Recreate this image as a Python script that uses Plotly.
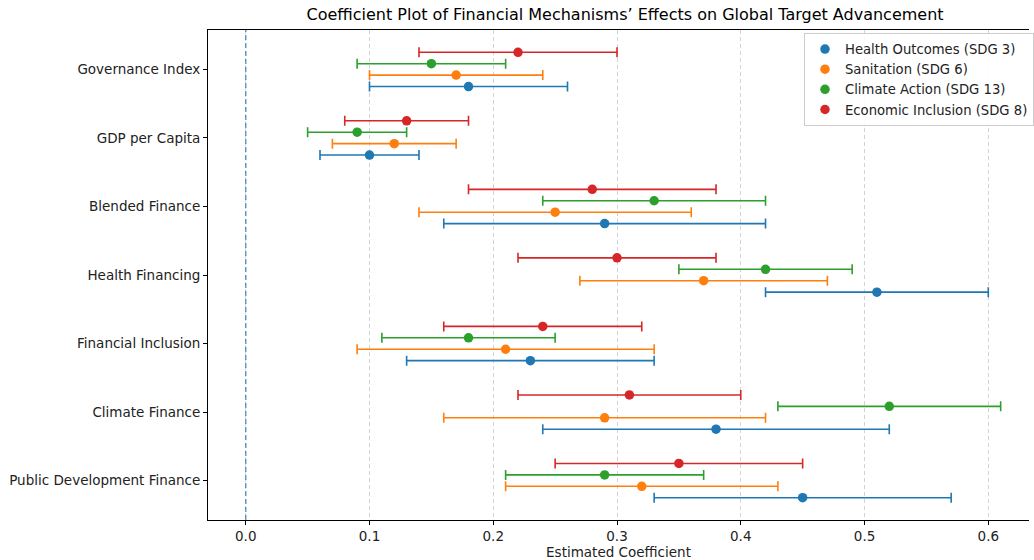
import plotly.graph_objects as go

categories = ["Public Development Finance", "Climate Finance", "Financial Inclusion",
              "Health Financing", "Blended Finance", "GDP per Capita", "Governance Index"]
series_names = ["Health Outcomes (SDG 3)", "Sanitation (SDG 6)",
                "Climate Action (SDG 13)", "Economic Inclusion (SDG 8)"]

health_coef = [0.45, 0.38, 0.23, 0.51, 0.29, 0.10, 0.18]
health_err = [0.12, 0.14, 0.10, 0.09, 0.13, 0.04, 0.08]
sanitation_coef = [0.32, 0.29, 0.21, 0.37, 0.25, 0.12, 0.17]
sanitation_err = [0.11, 0.13, 0.12, 0.10, 0.11, 0.05, 0.07]
climate_coef = [0.29, 0.52, 0.18, 0.42, 0.33, 0.09, 0.15]
climate_err = [0.08, 0.09, 0.07, 0.07, 0.09, 0.04, 0.06]
economic_coef = [0.35, 0.31, 0.24, 0.30, 0.28, 0.13, 0.22]
economic_err = [0.10, 0.09, 0.08, 0.08, 0.10, 0.05, 0.08]

colors = ["#1f77b4", "#ff7f0e", "#2ca02c", "#d62728"]
offsets = [-0.25, -0.25 / 3, 0.25 / 3, 0.25]

coefs = [health_coef, sanitation_coef, climate_coef, economic_coef]
errs = [health_err, sanitation_err, climate_err, economic_err]

fig = go.Figure()
for name, c, e, col, off in zip(series_names, coefs, errs, colors, offsets):
    fig.add_trace(go.Scatter(
        x=c, y=[i + off for i in range(len(categories))],
        mode="markers", name=name,
        marker=dict(color=col, size=9.5),
        error_x=dict(type="data", array=e, visible=True, color=col, thickness=1.6, width=5),
    ))

fig.add_shape(type="line", x0=0, x1=0, y0=0, y1=1, xref="x", yref="paper",
              line=dict(color="rgba(31,119,180,0.7)", width=1.5, dash="5px,3px"))

font = "DejaVu Sans, Arial, sans-serif"
fig.update_layout(
    width=1034, height=560,
    paper_bgcolor="white", plot_bgcolor="white",
    margin=dict(l=208, r=0, t=30, b=40),
    font=dict(family=font, size=13.5, color="#222"),
    title=dict(text="Coefficient Plot of Financial Mechanisms\u2019 Effects on Global Target Advancement",
               x=0.6045, xanchor="center", y=0.985, yanchor="top",
               font=dict(family=font, size=16, color="black")),
    showlegend=True,
    legend=dict(x=0.726, y=0.994, xanchor="left", yanchor="top",
                bgcolor="rgba(255,255,255,0.85)", bordercolor="#cccccc", borderwidth=1,
                tracegroupgap=0,
                font=dict(family=font, size=13.2, color="#222")),
)
fig.update_xaxes(
    range=[-0.0305, 0.6329], tickvals=[0.0, 0.1, 0.2, 0.3, 0.4, 0.5, 0.6],
    ticktext=["0.0", "0.1", "0.2", "0.3", "0.4", "0.5", "0.6"],
    showgrid=True, gridcolor="#d3d3d3", griddash="4px,3px", gridwidth=1,
    showline=True, linecolor="black", linewidth=1, mirror=True,
    ticks="outside", ticklen=4, tickcolor="black", zeroline=False,
    title=dict(text="Estimated Coefficient", standoff=2, font=dict(family=font, size=13.5)),
)
fig.update_yaxes(
    range=[-0.575, 6.575], tickvals=list(range(len(categories))), ticktext=categories,
    showgrid=False, showline=True, linecolor="black", linewidth=1,
    ticks="outside", ticklen=4, tickcolor="black", zeroline=False,
)

fig.write_html("out.html", config={"displayModeBar": False},
               post_script="document.body.style.margin='0';")
